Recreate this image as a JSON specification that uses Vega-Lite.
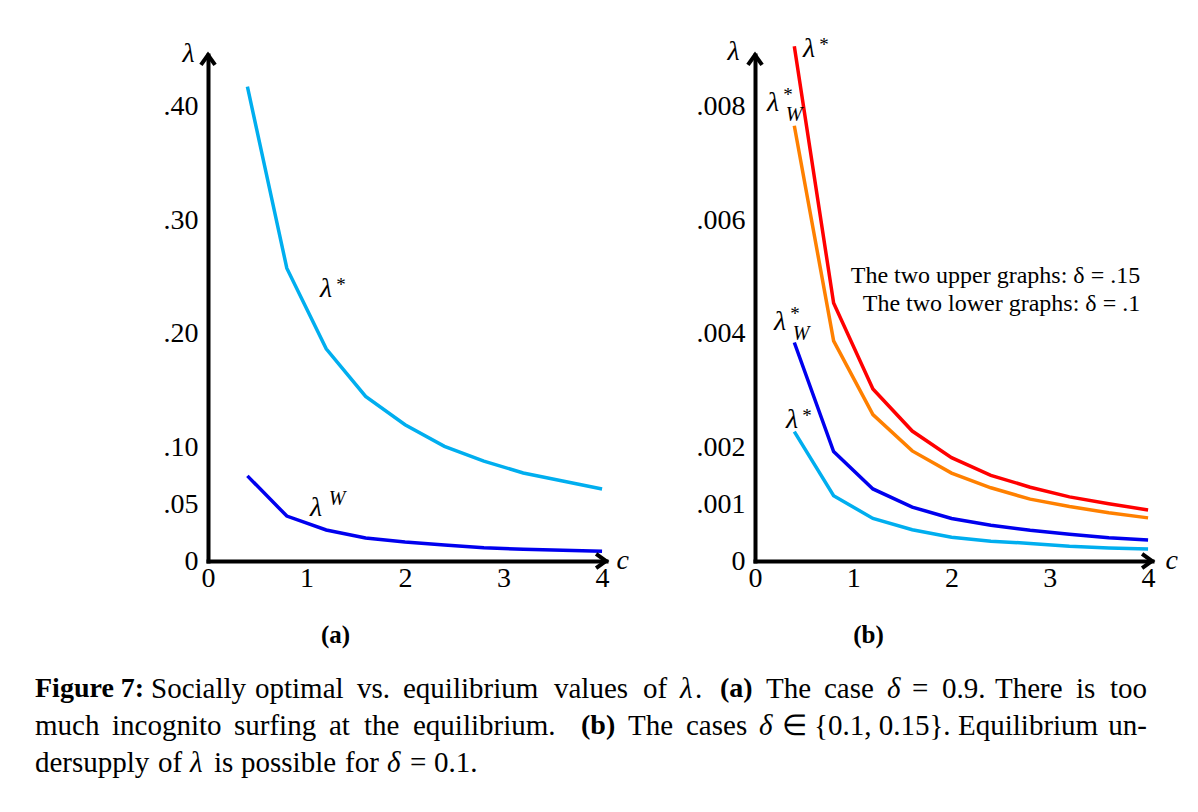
{
  "$schema": "https://vega.github.io/schema/vega-lite/v6.json",
  "background": "white",
  "padding": {"left": 35, "top": 35, "right": 0, "bottom": 0},
  "config": {"view": {"stroke": null}, "font": "Liberation Serif"},
  "datasets": {
    "a": [
      {"series": "lambda_star", "c": 0.4, "v": 0.418}, {"series": "lambda_star", "c": 0.8, "v": 0.258},
      {"series": "lambda_star", "c": 1.2, "v": 0.187}, {"series": "lambda_star", "c": 1.6, "v": 0.145},
      {"series": "lambda_star", "c": 2.0, "v": 0.120}, {"series": "lambda_star", "c": 2.4, "v": 0.101},
      {"series": "lambda_star", "c": 2.8, "v": 0.088}, {"series": "lambda_star", "c": 3.2, "v": 0.0775},
      {"series": "lambda_star", "c": 3.6, "v": 0.0705}, {"series": "lambda_star", "c": 4.0, "v": 0.0634},
      {"series": "lambda_W", "c": 0.4, "v": 0.075}, {"series": "lambda_W", "c": 0.8, "v": 0.0396},
      {"series": "lambda_W", "c": 1.2, "v": 0.0273}, {"series": "lambda_W", "c": 1.6, "v": 0.0203},
      {"series": "lambda_W", "c": 2.0, "v": 0.0167}, {"series": "lambda_W", "c": 2.4, "v": 0.0141},
      {"series": "lambda_W", "c": 2.8, "v": 0.0117}, {"series": "lambda_W", "c": 3.2, "v": 0.0103},
      {"series": "lambda_W", "c": 3.6, "v": 0.0094}, {"series": "lambda_W", "c": 4.0, "v": 0.0085}
    ],
    "b": [
      {"series": "star_015", "c": 0.4, "v": 0.00907}, {"series": "star_015", "c": 0.8, "v": 0.004546},
      {"series": "star_015", "c": 1.2, "v": 0.00303}, {"series": "star_015", "c": 1.6, "v": 0.00229},
      {"series": "star_015", "c": 2.0, "v": 0.00182}, {"series": "star_015", "c": 2.4, "v": 0.00151},
      {"series": "star_015", "c": 2.8, "v": 0.0013}, {"series": "star_015", "c": 3.2, "v": 0.00113},
      {"series": "star_015", "c": 3.6, "v": 0.00101}, {"series": "star_015", "c": 4.0, "v": 0.0009},
      {"series": "W_015", "c": 0.4, "v": 0.00767}, {"series": "W_015", "c": 0.8, "v": 0.00388},
      {"series": "W_015", "c": 1.2, "v": 0.00258}, {"series": "W_015", "c": 1.6, "v": 0.00194},
      {"series": "W_015", "c": 2.0, "v": 0.00155}, {"series": "W_015", "c": 2.4, "v": 0.00129},
      {"series": "W_015", "c": 2.8, "v": 0.00109}, {"series": "W_015", "c": 3.2, "v": 0.00096},
      {"series": "W_015", "c": 3.6, "v": 0.00085}, {"series": "W_015", "c": 4.0, "v": 0.00076},
      {"series": "W_010", "c": 0.4, "v": 0.00385}, {"series": "W_010", "c": 0.8, "v": 0.00193},
      {"series": "W_010", "c": 1.2, "v": 0.00127}, {"series": "W_010", "c": 1.6, "v": 0.00095},
      {"series": "W_010", "c": 2.0, "v": 0.00075}, {"series": "W_010", "c": 2.4, "v": 0.00063},
      {"series": "W_010", "c": 2.8, "v": 0.00054}, {"series": "W_010", "c": 3.2, "v": 0.00047},
      {"series": "W_010", "c": 3.6, "v": 0.00041}, {"series": "W_010", "c": 4.0, "v": 0.00037},
      {"series": "star_010", "c": 0.4, "v": 0.00228}, {"series": "star_010", "c": 0.8, "v": 0.00115},
      {"series": "star_010", "c": 1.2, "v": 0.00075}, {"series": "star_010", "c": 1.6, "v": 0.00055},
      {"series": "star_010", "c": 2.0, "v": 0.00042}, {"series": "star_010", "c": 2.4, "v": 0.00035},
      {"series": "star_010", "c": 2.8, "v": 0.00031}, {"series": "star_010", "c": 3.2, "v": 0.00026},
      {"series": "star_010", "c": 3.6, "v": 0.00023}, {"series": "star_010", "c": 4.0, "v": 0.00021}
    ],
    "labA": [
      {"kind": "star", "lx": 1.198, "ly": 0.2396},
      {"kind": "supW", "lx": 1.096, "ly": 0.0467}
    ],
    "labB": [
      {"kind": "star", "lx": 0.55, "ly": 0.00902},
      {"kind": "starW", "lx": 0.183, "ly": 0.00807},
      {"kind": "starW", "lx": 0.254, "ly": 0.00421},
      {"kind": "star", "lx": 0.377, "ly": 0.00248}
    ],
    "noteB": [
      {"lx": 3.92, "ly": 0.00502, "t": "The two upper graphs: δ = .15"},
      {"lx": 3.92, "ly": 0.00453, "t": "The two lower graphs: δ = .1"}
    ],
    "caption": [
      {"line": 1, "x": 35, "role": "label", "anchor": "start", "t": "Figure 7:"},
      {"line": 1, "x": 151, "role": "body", "anchor": "start", "t": "Socially"},
      {"line": 1, "x": 255, "role": "body", "anchor": "start", "t": "optimal"},
      {"line": 1, "x": 357, "role": "body", "anchor": "start", "t": "vs."},
      {"line": 1, "x": 403, "role": "body", "anchor": "start", "t": "equilibrium"},
      {"line": 1, "x": 554, "role": "body", "anchor": "start", "t": "values"},
      {"line": 1, "x": 643, "role": "body", "anchor": "start", "t": "of"},
      {"line": 1, "x": 680, "role": "math", "anchor": "start", "t": "λ"},
      {"line": 1, "x": 695, "role": "body", "anchor": "start", "t": "."},
      {"line": 1, "x": 720, "role": "label", "anchor": "start", "t": "(a)"},
      {"line": 1, "x": 766, "role": "body", "anchor": "start", "t": "The"},
      {"line": 1, "x": 824, "role": "body", "anchor": "start", "t": "case"},
      {"line": 1, "x": 887, "role": "math", "anchor": "start", "t": "δ"},
      {"line": 1, "x": 912, "role": "body", "anchor": "start", "t": "="},
      {"line": 1, "x": 942, "role": "body", "anchor": "start", "t": "0.9."},
      {"line": 1, "x": 995, "role": "body", "anchor": "start", "t": "There"},
      {"line": 1, "x": 1076, "role": "body", "anchor": "start", "t": "is"},
      {"line": 1, "x": 1147, "role": "body", "anchor": "end", "t": "too"},
      {"line": 2, "x": 35, "role": "body", "anchor": "start", "t": "much"},
      {"line": 2, "x": 112, "role": "body", "anchor": "start", "t": "incognito"},
      {"line": 2, "x": 234, "role": "body", "anchor": "start", "t": "surfing"},
      {"line": 2, "x": 329, "role": "body", "anchor": "start", "t": "at"},
      {"line": 2, "x": 364, "role": "body", "anchor": "start", "t": "the"},
      {"line": 2, "x": 413, "role": "body", "anchor": "start", "t": "equilibrium."},
      {"line": 2, "x": 581, "role": "label", "anchor": "start", "t": "(b)"},
      {"line": 2, "x": 628, "role": "body", "anchor": "start", "t": "The"},
      {"line": 2, "x": 686, "role": "body", "anchor": "start", "t": "cases"},
      {"line": 2, "x": 759, "role": "math", "anchor": "start", "t": "δ"},
      {"line": 2, "x": 782, "role": "body", "anchor": "start", "t": "∈"},
      {"line": 2, "x": 814, "role": "body", "anchor": "start", "t": "{0.1, 0.15}."},
      {"line": 2, "x": 958, "role": "body", "anchor": "start", "t": "Equilibrium"},
      {"line": 2, "x": 1147, "role": "body", "anchor": "end", "t": "un-"},
      {"line": 3, "x": 35, "role": "body", "anchor": "start", "t": "dersupply"},
      {"line": 3, "x": 158, "role": "body", "anchor": "start", "t": "of"},
      {"line": 3, "x": 190, "role": "math", "anchor": "start", "t": "λ"},
      {"line": 3, "x": 214, "role": "body", "anchor": "start", "t": "is"},
      {"line": 3, "x": 241, "role": "body", "anchor": "start", "t": "possible"},
      {"line": 3, "x": 345, "role": "body", "anchor": "start", "t": "for"},
      {"line": 3, "x": 387, "role": "math", "anchor": "start", "t": "δ"},
      {"line": 3, "x": 410, "role": "body", "anchor": "start", "t": "="},
      {"line": 3, "x": 434, "role": "body", "anchor": "start", "t": "0.1."}
    ]
  },
  "spacing": 149,
  "bounds": "flush",
  "hconcat": [
    {
      "width": 398,
      "height": 506,
      "resolve": {"scale": {"x": "independent", "y": "independent"}},
      "layer": [
        {
          "layer": [
            {
              "data": {"name": "a"},
              "mark": {"type": "line", "strokeWidth": 3.5},
              "encoding": {
                "x": {
                  "field": "c", "type": "quantitative",
                  "scale": {"domain": [0, 4.04], "nice": false, "zero": false},
                  "axis": {
                    "values": [0, 1, 2, 3, 4], "format": "d", "title": "(a)",
                    "titleFontWeight": "bold", "titleFontSize": 25, "titleX": 127, "titleY": 73,
                    "titleBaseline": "middle", "titleAlign": "center", "titleColor": "black",
                    "labelFontSize": 28, "labelPadding": 3, "labelColor": "black", "labelFlush": false,
                    "labelOverlap": false, "ticks": false, "tickSize": 0, "grid": false,
                    "domainColor": "black", "domainWidth": 4, "domainCap": "square"
                  }
                },
                "y": {
                  "field": "v", "type": "quantitative",
                  "scale": {"domain": [0, 0.4458], "nice": false},
                  "axis": {
                    "values": [0, 0.05, 0.1, 0.2, 0.3, 0.4],
                    "labelExpr": "datum.value == 0 ? '0' : replace(format(datum.value, '.2f'), '0.', '.')",
                    "title": "λ", "titleAngle": 0, "titleX": -20, "titleY": -2,
                    "titleBaseline": "middle", "titleAlign": "center", "titleFontStyle": "italic",
                    "titleFontWeight": "normal", "titleFontSize": 28, "titleColor": "black",
                    "labelFontSize": 28, "labelPadding": 10, "labelColor": "black", "labelFlush": false,
                    "labelOverlap": false, "ticks": false, "tickSize": 0, "grid": false,
                    "domainColor": "black", "domainWidth": 4, "domainCap": "square"
                  }
                },
                "color": {
                  "field": "series", "type": "nominal",
                  "scale": {"domain": ["lambda_star", "lambda_W", "star_015", "W_015", "W_010", "star_010"], "range": ["#00AEEF", "#0000EE", "#FF0000", "#FF8000", "#0000EE", "#00AEEF"]},
                  "legend": null
                }
              }
            },
            {
              "data": {"values": [{}]},
              "mark": {"type": "point", "shape": "M-1.4,-1L0,0L-1.4,1", "filled": false, "size": 200, "strokeWidth": 4, "color": "black", "opacity": 1},
              "encoding": {"x": {"datum": 4.04}, "y": {"datum": 0}}
            },
            {
              "data": {"values": [{}]},
              "mark": {"type": "point", "shape": "M-1,1.4L0,0L1,1.4", "filled": false, "size": 200, "strokeWidth": 4, "color": "black", "opacity": 1},
              "encoding": {"x": {"datum": 0}, "y": {"datum": 0.4458}}
            },
            {
              "data": {"values": [{}]},
              "mark": {"type": "text", "text": "c", "fontStyle": "italic", "fontSize": 28, "align": "center", "baseline": "middle", "color": "black"},
              "encoding": {"x": {"datum": 4.21}, "y": {"datum": 0}}
            },
            {
              "data": {"name": "labA"},
              "mark": {"type": "text", "text": "λ", "fontStyle": "italic", "fontSize": 28, "align": "center", "baseline": "middle", "color": "black"},
              "encoding": {"x": {"field": "lx", "type": "quantitative"}, "y": {"field": "ly", "type": "quantitative"}}
            },
            {
              "data": {"name": "labA"},
              "transform": [{"filter": "datum.kind == 'star'"}],
              "mark": {"type": "text", "text": "*", "fontSize": 19, "align": "center", "baseline": "middle", "dx": 15, "dy": -4, "color": "black"},
              "encoding": {"x": {"field": "lx", "type": "quantitative"}, "y": {"field": "ly", "type": "quantitative"}}
            },
            {
              "data": {"name": "labA"},
              "transform": [{"filter": "datum.kind == 'supW'"}],
              "mark": {"type": "text", "text": "W", "fontStyle": "italic", "fontSize": 20, "align": "center", "baseline": "middle", "dx": 21, "dy": -9, "color": "black"},
              "encoding": {"x": {"field": "lx", "type": "quantitative"}, "y": {"field": "ly", "type": "quantitative"}}
            }
          ]
        },
        {
          "data": {"name": "caption"},
          "encoding": {
            "x": {"field": "x", "type": "quantitative", "scale": {"domain": [0, 1198], "range": [-208, 990]}, "axis": null},
            "y": {"field": "line", "type": "quantitative", "scale": {"domain": [0, 4], "range": [597, 745]}, "axis": null},
            "text": {"field": "t"}
          },
          "layer": [
            {
              "transform": [{"filter": "datum.role == 'body' && datum.anchor == 'start'"}],
              "mark": {"type": "text", "align": "left", "baseline": "middle", "fontSize": 29, "color": "black"}
            },
            {
              "transform": [{"filter": "datum.role == 'body' && datum.anchor == 'end'"}],
              "mark": {"type": "text", "align": "right", "baseline": "middle", "fontSize": 29, "color": "black"}
            },
            {
              "transform": [{"filter": "datum.role == 'math'"}],
              "mark": {"type": "text", "align": "left", "baseline": "middle", "fontSize": 29, "fontStyle": "italic", "color": "black"}
            },
            {
              "transform": [{"filter": "datum.role == 'label'"}],
              "mark": {"type": "text", "align": "left", "baseline": "middle", "fontSize": 28, "fontWeight": "bold", "color": "black"}
            }
          ]
        }
      ]
    },
    {
      "width": 397,
      "height": 506,
      "layer": [
        {
          "data": {"name": "b"},
          "mark": {"type": "line", "strokeWidth": 3.5},
          "encoding": {
            "x": {
              "field": "c", "type": "quantitative",
              "scale": {"domain": [0, 4.04], "nice": false, "zero": false},
              "axis": {
                "values": [0, 1, 2, 3, 4], "format": "d", "title": "(b)",
                "titleFontWeight": "bold", "titleFontSize": 25, "titleX": 113, "titleY": 73,
                "titleBaseline": "middle", "titleAlign": "center", "titleColor": "black",
                "labelFontSize": 28, "labelPadding": 3, "labelColor": "black", "labelFlush": false,
                "labelOverlap": false, "ticks": false, "tickSize": 0, "grid": false,
                "domainColor": "black", "domainWidth": 4, "domainCap": "square"
              }
            },
            "y": {
              "field": "v", "type": "quantitative",
              "scale": {"domain": [0, 0.008916], "nice": false},
              "axis": {
                "values": [0, 0.001, 0.002, 0.004, 0.006, 0.008],
                "labelExpr": "datum.value == 0 ? '0' : replace(format(datum.value, '.3f'), '0.', '.')",
                "title": "λ", "titleAngle": 0, "titleX": -22, "titleY": -4,
                "titleBaseline": "middle", "titleAlign": "center", "titleFontStyle": "italic",
                "titleFontWeight": "normal", "titleFontSize": 28, "titleColor": "black",
                "labelFontSize": 28, "labelPadding": 10, "labelColor": "black", "labelFlush": false,
                "labelOverlap": false, "ticks": false, "tickSize": 0, "grid": false,
                "domainColor": "black", "domainWidth": 4, "domainCap": "square"
              }
            },
            "color": {
              "field": "series", "type": "nominal",
              "scale": {"domain": ["lambda_star", "lambda_W", "star_015", "W_015", "W_010", "star_010"], "range": ["#00AEEF", "#0000EE", "#FF0000", "#FF8000", "#0000EE", "#00AEEF"]},
              "legend": null
            }
          }
        },
        {
          "data": {"values": [{}]},
          "mark": {"type": "point", "shape": "M-1.4,-1L0,0L-1.4,1", "filled": false, "size": 200, "strokeWidth": 4, "color": "black", "opacity": 1},
          "encoding": {"x": {"datum": 4.04}, "y": {"datum": 0}}
        },
        {
          "data": {"values": [{}]},
          "mark": {"type": "point", "shape": "M-1,1.4L0,0L1,1.4", "filled": false, "size": 200, "strokeWidth": 4, "color": "black", "opacity": 1},
          "encoding": {"x": {"datum": 0}, "y": {"datum": 0.008916}}
        },
        {
          "data": {"values": [{}]},
          "mark": {"type": "text", "text": "c", "fontStyle": "italic", "fontSize": 28, "align": "center", "baseline": "middle", "color": "black"},
          "encoding": {"x": {"datum": 4.24}, "y": {"datum": 0}}
        },
        {
          "data": {"name": "labB"},
          "mark": {"type": "text", "text": "λ", "fontStyle": "italic", "fontSize": 28, "align": "center", "baseline": "middle", "color": "black"},
          "encoding": {"x": {"field": "lx", "type": "quantitative"}, "y": {"field": "ly", "type": "quantitative"}}
        },
        {
          "data": {"name": "labB"},
          "transform": [{"filter": "datum.kind == 'star'"}],
          "mark": {"type": "text", "text": "*", "fontSize": 19, "align": "center", "baseline": "middle", "dx": 15, "dy": -4, "color": "black"},
          "encoding": {"x": {"field": "lx", "type": "quantitative"}, "y": {"field": "ly", "type": "quantitative"}}
        },
        {
          "data": {"name": "labB"},
          "transform": [{"filter": "datum.kind == 'starW'"}],
          "mark": {"type": "text", "text": "*", "fontSize": 19, "align": "center", "baseline": "middle", "dx": 15, "dy": -8, "color": "black"},
          "encoding": {"x": {"field": "lx", "type": "quantitative"}, "y": {"field": "ly", "type": "quantitative"}}
        },
        {
          "data": {"name": "labB"},
          "transform": [{"filter": "datum.kind == 'starW'"}],
          "mark": {"type": "text", "text": "W", "fontStyle": "italic", "fontSize": 20, "align": "center", "baseline": "middle", "dx": 21, "dy": 12, "color": "black"},
          "encoding": {"x": {"field": "lx", "type": "quantitative"}, "y": {"field": "ly", "type": "quantitative"}}
        },
        {
          "data": {"name": "noteB"},
          "mark": {"type": "text", "fontSize": 24, "align": "right", "baseline": "middle", "color": "black"},
          "encoding": {"x": {"field": "lx", "type": "quantitative"}, "y": {"field": "ly", "type": "quantitative"}, "text": {"field": "t"}}
        }
      ]
    }
  ]
}
